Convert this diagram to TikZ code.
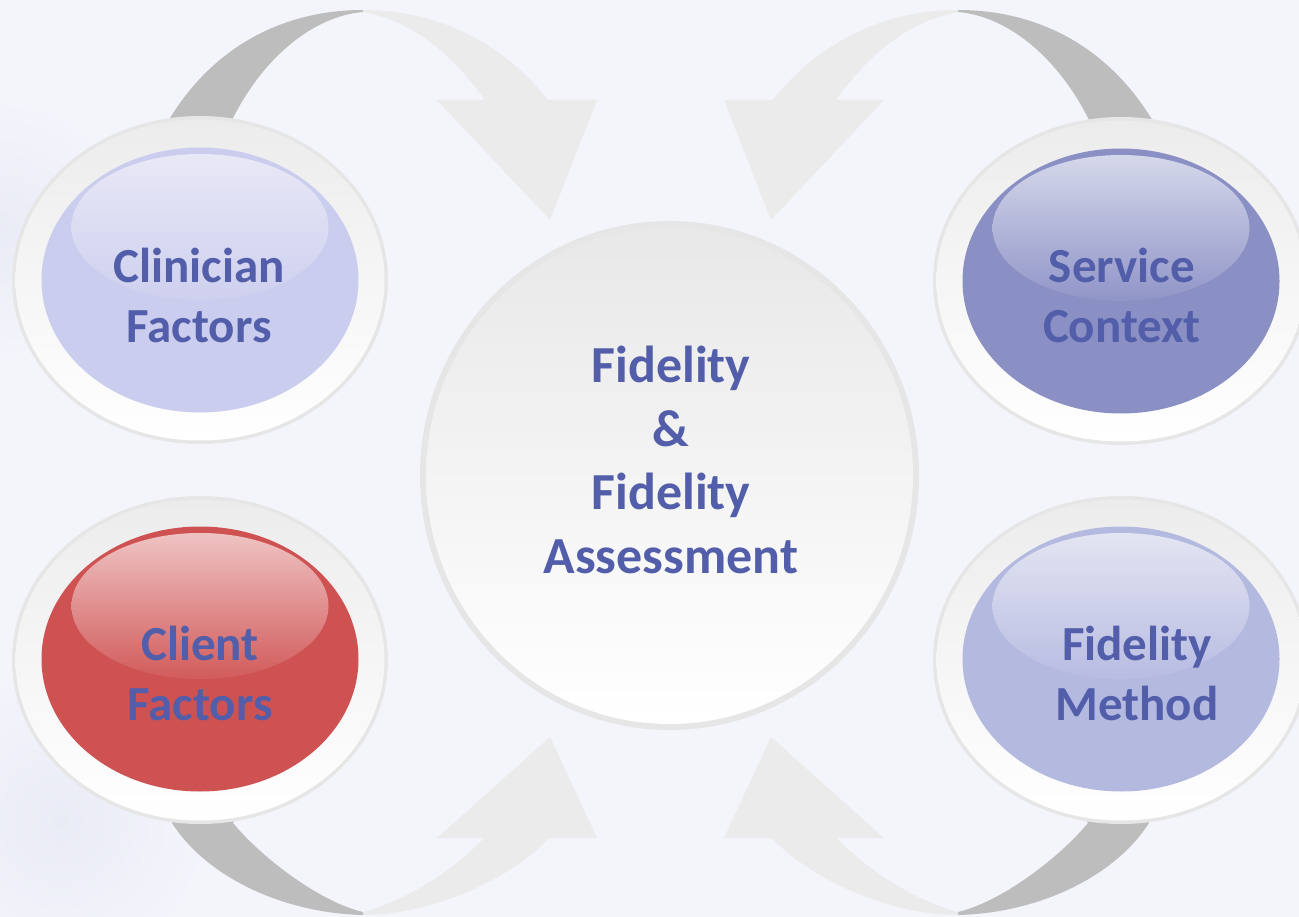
\documentclass[tikz,border=0pt]{standalone}
\usepackage{fontspec}
\setmainfont{Carlito}
\usetikzlibrary{shapes.geometric}

\definecolor{bg}{HTML}{F4F5FB}
\definecolor{bgtint}{HTML}{E9EBF6}
\definecolor{labelblue}{HTML}{525EA9}
\definecolor{arrowdark}{HTML}{BDBDBD}
\definecolor{arrowlight}{HTML}{EBEBEB}
\definecolor{ringedge}{HTML}{E6E6E6}
\definecolor{ringtop}{HTML}{ECECEC}
\definecolor{hubtop}{HTML}{E8E8E8}
% body and gloss colours of the four outer ovals
\definecolor{clinbody}{HTML}{CBCDEE}
\definecolor{clintop}{HTML}{E8E8F6}
\definecolor{clinbot}{HTML}{CED0EF}
\definecolor{servbody}{HTML}{8A8FC4}
\definecolor{servtop}{HTML}{D5D8EA}
\definecolor{servbot}{HTML}{9095C8}
\definecolor{clientbody}{HTML}{CF5252}
\definecolor{clienttop}{HTML}{EFC3C3}
\definecolor{clientbot}{HTML}{D25B5B}
\definecolor{methbody}{HTML}{B4B9E0}
\definecolor{methtop}{HTML}{E3E5F2}
\definecolor{methbot}{HTML}{B8BCE2}

\tikzset{
  oval/.style={ellipse, inner sep=0pt, outer sep=0pt, draw=none},
  ringouter/.style={oval, fill=ringedge, minimum width=376pt, minimum height=328pt},
  ringinner/.style={oval, top color=ringtop, bottom color=white, minimum width=369pt, minimum height=321pt},
  bodyoval/.style={oval, minimum width=317pt, minimum height=265pt},
  glossoval/.style={oval, minimum width=257pt, minimum height=146pt},
  sidelabel/.style={font=\bfseries\fontsize{49}{60}\selectfont, text=labelblue, align=center, inner sep=0pt},
  hublabel/.style={font=\bfseries\fontsize{52}{63.5}\selectfont, text=labelblue, align=center, inner sep=0pt},
  shaftdark/.style={fill=arrowdark},
  shaftlight/.style={fill=arrowlight},
}

\begin{document}
\begin{tikzpicture}[x=1pt, y=-1pt]
  % page and soft background tint
  \fill[bg] (0,0) rectangle (1299,917);
  \useasboundingbox (0,0) rectangle (1299,917);
  \shade[inner color=bgtint, outer color=bg] (0,230) circle (130);
  \shade[inner color=bgtint, outer color=bg] (60,820) circle (150);

  % curved block arrows, left side (repeated mirrored on the right)
  \foreach \side in {0,1}{
    \begin{scope}[xshift=\side*1321pt, xscale=1-2*\side]
      % upper arrow
      \fill[shaftdark] (163,132) -- (170,118) .. controls (215,45) and (285,10) .. (363,10)
        -- (363,12) .. controls (315,16) and (265,55) .. (233,118) -- (226,132) -- cycle;
      \fill[shaftlight] (363,10) .. controls (440,10) and (505,45) .. (548,100)
        -- (597,100) -- (550,220) -- (437,100) -- (485,100)
        .. controls (460,65) and (420,22) .. (363,12) -- cycle;
      % lower arrow
      \fill[shaftdark] (179,810) -- (172,823) .. controls (205,875) and (280,913) .. (363,915)
        -- (363,912) .. controls (320,902) and (262,858) .. (233,823) -- (240,810) -- cycle;
      \fill[shaftlight] (363,915) .. controls (430,915) and (510,880) .. (549,838)
        -- (597,838) -- (550,737) -- (437,838) -- (484,838)
        .. controls (462,862) and (415,898) .. (363,912) -- cycle;
    \end{scope}
  }

  % outer ovals
  \node[ringouter] (clinRing) at (200,280) {};
  \node[ringinner] (clinRingIn) at (200,280) {};
  \node[bodyoval, fill=clinbody] (clinBody) at (200,280) {};
  \node[glossoval, top color=clintop, bottom color=clinbot] (clinGloss) at (200,227) {};
  \node[sidelabel] (clinText) at (199,295) {Clinician\\Factors};

  \node[ringouter] (servRing) at (1121,281) {};
  \node[ringinner] (servRingIn) at (1121,281) {};
  \node[bodyoval, fill=servbody] (servBody) at (1121,281) {};
  \node[glossoval, top color=servtop, bottom color=servbot] (servGloss) at (1121,228) {};
  \node[sidelabel] (servText) at (1122,295) {Service\\Context};

  \node[ringouter] (clientRing) at (200,660) {};
  \node[ringinner] (clientRingIn) at (200,660) {};
  \node[bodyoval, fill=clientbody] (clientBody) at (200,659) {};
  \node[glossoval, top color=clienttop, bottom color=clientbot] (clientGloss) at (200,606) {};
  \node[sidelabel] (clientText) at (200,673) {Client\\Factors};

  \node[ringouter] (methRing) at (1121,660) {};
  \node[ringinner] (methRingIn) at (1121,660) {};
  \node[bodyoval, fill=methbody] (methBody) at (1121,659) {};
  \node[glossoval, top color=methtop, bottom color=methbot] (methGloss) at (1121,606) {};
  \node[sidelabel] (methText) at (1137,673) {Fidelity\\Method};

  % central hub
  \node[oval, fill=ringedge, minimum width=499pt, minimum height=509pt] (hubRing) at (669.5,475.5) {};
  \node[oval, top color=hubtop, bottom color=white, minimum width=487pt, minimum height=497pt] (hub) at (669.5,475.5) {};
  \node[hublabel] (hubText) at (671,460) {Fidelity\\\&\\Fidelity\\Assessment};
\end{tikzpicture}
\end{document}
